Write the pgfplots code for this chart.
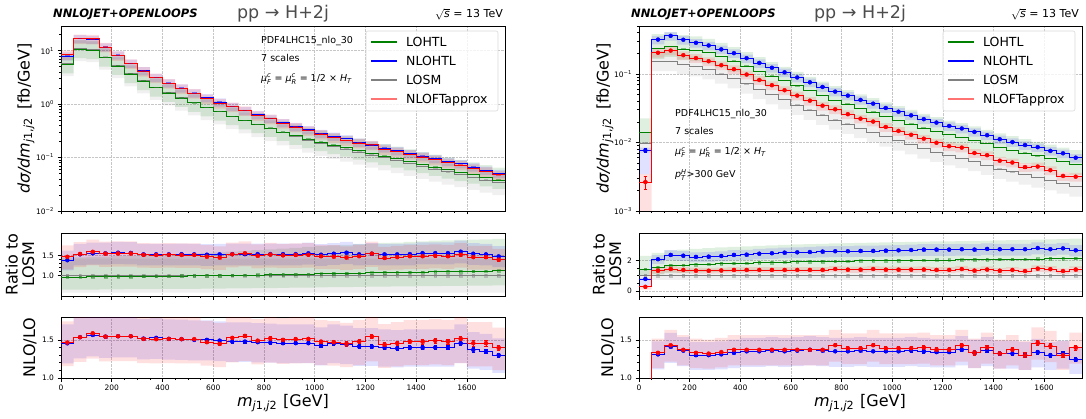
\documentclass[border=0pt]{standalone}
\usepackage{amsmath}
\usepackage{fontspec}
\setmainfont{DejaVu Sans}
\usepackage{pgfplots}
\usepackage{pgfplotstable}
\usepgfplotslibrary{fillbetween}
\pgfplotsset{compat=1.18}

\definecolor{mplG}{HTML}{008000}
\definecolor{mplB}{HTML}{0000FF}
\definecolor{mplS}{HTML}{808080}
\definecolor{mplR}{HTML}{FF0000}
\definecolor{mplRl}{HTML}{FF7373}

% columns: bin low edge, LOSM, LOHTL/LOSM, NLOHTL/LOSM, NLOFT/LOSM, NLOHTL/LOHTL,
% stat errors, band factors (LOSM, LOHTL, NLOHTL, NLOFT), unit
\pgfplotstableread{
x los g b r nb eb er sl sh gl gh bl bh rl rh u
0 5.76 0.965 1.38 1.465 1.455 0.008 0.010 0.58 1.42 0.68 1.50 0.82 1.17 0.79 1.19 1
50 11.0 0.967 1.525 1.535 1.535 0.008 0.010 0.58 1.42 0.68 1.50 0.82 1.17 0.79 1.19 1
100 10.5 0.970 1.55 1.587 1.565 0.008 0.010 0.58 1.42 0.68 1.51 0.82 1.17 0.79 1.19 1
150 7.6 0.973 1.55 1.543 1.543 0.008 0.010 0.58 1.42 0.68 1.51 0.82 1.17 0.79 1.19 1
200 5.3 0.976 1.565 1.548 1.548 0.008 0.010 0.58 1.42 0.68 1.52 0.82 1.17 0.79 1.19 1
250 3.72 0.980 1.56 1.548 1.548 0.008 0.010 0.58 1.42 0.68 1.52 0.82 1.17 0.79 1.19 1
300 2.75 0.983 1.525 1.513 1.517 0.012 0.015 0.58 1.42 0.68 1.53 0.82 1.17 0.79 1.19 1
350 2.07 0.986 1.525 1.509 1.526 0.012 0.015 0.58 1.42 0.68 1.53 0.82 1.17 0.79 1.19 1
400 1.63 0.990 1.525 1.513 1.513 0.012 0.015 0.58 1.42 0.68 1.54 0.82 1.17 0.79 1.19 1
450 1.31 0.993 1.53 1.51 1.51 0.012 0.015 0.58 1.42 0.68 1.54 0.82 1.17 0.79 1.19 1
500 1.06 0.997 1.525 1.51 1.50 0.012 0.015 0.58 1.42 0.68 1.55 0.82 1.17 0.79 1.19 1
550 0.865 1.000 1.516 1.47 1.50 0.012 0.015 0.58 1.42 0.68 1.56 0.82 1.17 0.79 1.19 1
600 0.72 1.004 1.525 1.448 1.49 0.012 0.015 0.58 1.42 0.68 1.57 0.82 1.17 0.79 1.19 1
650 0.59 1.008 1.53 1.526 1.478 0.018 0.022 0.58 1.42 0.68 1.58 0.82 1.17 0.79 1.19 1
700 0.49 1.012 1.53 1.552 1.478 0.018 0.022 0.58 1.42 0.68 1.59 0.82 1.17 0.79 1.19 1
750 0.415 1.017 1.53 1.49 1.47 0.018 0.022 0.58 1.42 0.68 1.60 0.82 1.17 0.79 1.19 1
800 0.35 1.022 1.53 1.52 1.465 0.018 0.022 0.58 1.42 0.68 1.61 0.82 1.17 0.79 1.19 1
850 0.293 1.028 1.53 1.50 1.457 0.018 0.022 0.58 1.42 0.68 1.62 0.82 1.17 0.79 1.19 1
900 0.247 1.034 1.53 1.51 1.457 0.018 0.022 0.58 1.42 0.68 1.63 0.82 1.17 0.79 1.19 1
950 0.213 1.040 1.55 1.513 1.457 0.018 0.022 0.58 1.42 0.68 1.64 0.82 1.17 0.79 1.19 1
1000 0.186 1.046 1.516 1.478 1.422 0.018 0.022 0.58 1.42 0.68 1.65 0.82 1.17 0.79 1.19 1
1050 0.163 1.052 1.54 1.47 1.457 0.025 0.028 0.58 1.42 0.68 1.66 0.82 1.17 0.79 1.19 1
1100 0.144 1.058 1.565 1.448 1.443 0.025 0.028 0.58 1.42 0.68 1.66 0.82 1.17 0.79 1.19 1
1150 0.127 1.064 1.525 1.478 1.413 0.025 0.028 0.58 1.42 0.68 1.67 0.82 1.17 0.79 1.19 1
1200 0.112 1.070 1.54 1.543 1.413 0.025 0.028 0.58 1.42 0.68 1.67 0.82 1.17 0.79 1.19 1
1250 0.099 1.075 1.525 1.435 1.40 0.025 0.028 0.58 1.42 0.68 1.68 0.82 1.17 0.79 1.19 1
1300 0.088 1.080 1.525 1.457 1.39 0.025 0.028 0.58 1.42 0.68 1.68 0.82 1.17 0.79 1.19 1
1350 0.078 1.085 1.53 1.478 1.40 0.025 0.028 0.58 1.42 0.68 1.69 0.82 1.17 0.79 1.19 1
1400 0.069 1.090 1.555 1.478 1.40 0.030 0.035 0.58 1.42 0.68 1.69 0.82 1.17 0.79 1.19 1
1450 0.061 1.095 1.555 1.49 1.40 0.030 0.035 0.58 1.42 0.68 1.70 0.82 1.17 0.79 1.19 1
1500 0.054 1.100 1.555 1.478 1.40 0.030 0.035 0.58 1.42 0.68 1.70 0.82 1.17 0.79 1.19 1
1550 0.048 1.105 1.59 1.513 1.457 0.030 0.035 0.58 1.42 0.68 1.70 0.82 1.17 0.79 1.19 1
1600 0.043 1.110 1.54 1.457 1.37 0.030 0.035 0.58 1.42 0.68 1.70 0.82 1.17 0.79 1.19 1
1650 0.038 1.115 1.525 1.457 1.348 0.030 0.035 0.58 1.42 0.68 1.70 0.82 1.17 0.79 1.19 1
1700 0.034 1.120 1.475 1.396 1.30 0.030 0.035 0.58 1.42 0.68 1.70 0.82 1.17 0.79 1.19 1
1750 0.034 1.120 1.475 1.396 1.30 0.030 0.035 0.58 1.42 0.68 1.70 0.82 1.17 0.79 1.19 1
}\tabL

\pgfplotstableread{
x los g b r nb eb er sl sh gl gh bl bh rl rh u
0 0.0098 1.43 0.78 0.27 0.56 0.050 0.060 0.72 1.40 0.70 1.60 0.45 1.10 0.30 1.30 1
50 0.153 1.55 2.07 1.33 1.31 0.010 0.012 0.72 1.40 0.70 1.60 0.85 1.13 0.85 1.14 1
100 0.153 1.65 2.35 1.43 1.41 0.010 0.012 0.72 1.40 0.70 1.60 0.85 1.13 0.85 1.14 1
150 0.137 1.68 2.30 1.37 1.36 0.010 0.012 0.72 1.40 0.70 1.60 0.85 1.13 0.85 1.14 1
200 0.128 1.72 2.22 1.33 1.30 0.010 0.012 0.72 1.40 0.70 1.60 0.85 1.13 0.85 1.14 1
250 0.116 1.75 2.24 1.32 1.30 0.010 0.012 0.72 1.40 0.70 1.60 0.85 1.13 0.85 1.14 1
300 0.100 1.78 2.28 1.34 1.31 0.010 0.012 0.72 1.40 0.70 1.60 0.85 1.13 0.85 1.14 1
350 0.0855 1.80 2.35 1.37 1.33 0.010 0.012 0.72 1.40 0.70 1.60 0.85 1.13 0.85 1.14 1
400 0.0715 1.82 2.37 1.37 1.35 0.010 0.012 0.72 1.40 0.70 1.60 0.85 1.13 0.85 1.14 1
450 0.0595 1.84 2.43 1.37 1.35 0.010 0.012 0.72 1.40 0.70 1.60 0.85 1.13 0.85 1.14 1
500 0.0500 1.86 2.46 1.37 1.36 0.010 0.012 0.72 1.40 0.70 1.60 0.85 1.13 0.85 1.14 1
550 0.0422 1.88 2.50 1.37 1.35 0.015 0.020 0.72 1.40 0.70 1.60 0.85 1.13 0.85 1.14 1
600 0.0352 1.90 2.52 1.37 1.36 0.015 0.020 0.72 1.40 0.70 1.60 0.85 1.13 0.85 1.14 1
650 0.0297 1.91 2.54 1.37 1.37 0.015 0.020 0.72 1.40 0.70 1.60 0.85 1.13 0.85 1.14 1
700 0.0251 1.92 2.57 1.37 1.36 0.015 0.020 0.72 1.40 0.70 1.60 0.85 1.13 0.85 1.14 1
750 0.0213 1.94 2.59 1.43 1.35 0.015 0.020 0.72 1.40 0.70 1.60 0.85 1.13 0.85 1.14 1
800 0.0186 1.95 2.59 1.39 1.35 0.015 0.020 0.72 1.40 0.70 1.60 0.85 1.13 0.85 1.14 1
850 0.0160 1.96 2.61 1.39 1.36 0.015 0.020 0.72 1.40 0.70 1.60 0.85 1.13 0.85 1.14 1
900 0.0141 1.97 2.61 1.43 1.35 0.015 0.020 0.72 1.40 0.70 1.60 0.85 1.13 0.85 1.14 1
950 0.0121 1.98 2.63 1.39 1.35 0.015 0.020 0.72 1.40 0.70 1.60 0.85 1.13 0.85 1.14 1
1000 0.0106 1.99 2.65 1.39 1.35 0.015 0.020 0.72 1.40 0.70 1.60 0.85 1.13 0.85 1.14 1
1050 0.0093 2.00 2.67 1.39 1.36 0.020 0.028 0.72 1.40 0.70 1.60 0.85 1.13 0.85 1.14 1
1100 0.0081 2.01 2.70 1.40 1.35 0.020 0.028 0.72 1.40 0.70 1.60 0.85 1.13 0.85 1.14 1
1150 0.00722 2.02 2.70 1.37 1.34 0.020 0.028 0.72 1.40 0.70 1.60 0.85 1.13 0.85 1.14 1
1200 0.00644 2.02 2.70 1.37 1.34 0.020 0.028 0.72 1.40 0.70 1.60 0.85 1.13 0.85 1.14 1
1250 0.00588 2.03 2.72 1.43 1.37 0.020 0.028 0.72 1.40 0.70 1.60 0.85 1.13 0.85 1.14 1
1300 0.00528 2.04 2.70 1.33 1.33 0.020 0.028 0.72 1.40 0.70 1.60 0.85 1.13 0.85 1.14 1
1350 0.00466 2.05 2.74 1.40 1.36 0.020 0.028 0.72 1.40 0.70 1.60 0.85 1.13 0.85 1.14 1
1400 0.00410 2.06 2.72 1.32 1.32 0.020 0.028 0.72 1.40 0.70 1.60 0.85 1.13 0.85 1.14 1
1450 0.00372 2.07 2.72 1.37 1.32 0.025 0.035 0.72 1.40 0.70 1.60 0.85 1.13 0.85 1.14 1
1500 0.00337 2.08 2.72 1.30 1.30 0.025 0.035 0.72 1.40 0.70 1.60 0.85 1.13 0.85 1.14 1
1550 0.00305 2.09 2.80 1.46 1.34 0.025 0.035 0.72 1.40 0.70 1.60 0.85 1.13 0.85 1.14 1
1600 0.00277 2.10 2.72 1.42 1.30 0.025 0.035 0.72 1.40 0.70 1.60 0.85 1.13 0.85 1.14 1
1650 0.00250 2.11 2.78 1.30 1.32 0.025 0.035 0.72 1.40 0.70 1.60 0.85 1.13 0.85 1.14 1
1700 0.00226 2.13 2.65 1.40 1.24 0.025 0.035 0.72 1.40 0.70 1.60 0.85 1.13 0.85 1.14 1
1750 0.00226 2.13 2.65 1.40 1.24 0.025 0.035 0.72 1.40 0.70 1.60 0.85 1.13 0.85 1.14 1
}\tabR

\newcommand{\band}[5]{%
  \addplot[draw=none, const plot, name path=#5lo, forget plot] table[x=x, y expr={#2}] {#1};
  \addplot[draw=none, const plot, name path=#5hi, forget plot] table[x=x, y expr={#3}] {#1};
  \addplot[fill=#4, fill opacity=0.12, draw=none, forget plot] fill between[of=#5lo and #5hi];
}
\newcommand{\stepline}[3]{%
  \addplot[color=#3, line width=0.8pt, const plot, forget plot] table[x=x, y expr={#2}] {#1};
}
\newcommand{\dashes}[3]{%
  \addplot[color=#3, only marks, mark=-, mark size=2.4pt, mark options={line width=1.3pt, opacity=0.45},
    forget plot, restrict x to domain=0:1740] table[x expr=\thisrow{x}+25, y expr={#2}] {#1};
}
\newcommand{\sqmarks}[3]{%
  \addplot[color=#3, only marks, mark=square*, mark size=1.3pt, mark options={opacity=0.4},
    forget plot, restrict x to domain=0:1740] table[x expr=\thisrow{x}+25, y expr={#2}] {#1};
}
\newcommand{\errs}[4]{%
  \addplot[color=#4, only marks, mark=none, forget plot, restrict x to domain=0:1740,
    error bars/.cd, y dir=both, y explicit, error bar style={line width=0.6pt},
    error mark options={rotate=90, mark size=1.6pt, line width=0.6pt}]
    table[x expr=\thisrow{x}+25, y expr={#2}, y error expr={#3}] {#1};
}

\pgfplotsset{
  pane/.style={
    scale only axis, width=444pt, xmin=0, xmax=1750, anchor=south west,
    tick pos=left, tick align=outside,
    xtick={0,200,...,1600}, minor x tick num=3, xticklabels={},
    major tick length=3.5pt, minor tick length=2pt,
    every tick/.style={black, line width=0.6pt},
    axis line style={line width=0.8pt},
    grid=major, major grid style={densely dotted, gray!45, line width=0.5pt},
    tick label style={font=\fontsize{7.5}{8}\selectfont},
  },
}

\begin{document}
\begin{tikzpicture}

% ---------------- left: main ----------------
\begin{axis}[pane, at={(61pt,207pt)}, height=185pt,
    ymode=log, log basis y=10, ymin=0.01, ymax=29,
    ytick={0.01,0.1,1,10},
    yticklabels={10\textsuperscript{−2},10\textsuperscript{−1},10\textsuperscript{0},10\textsuperscript{1}},
    minor ytick={0.02,0.03,0.04,0.05,0.06,0.07,0.08,0.09,0.2,0.3,0.4,0.5,0.6,0.7,0.8,0.9,2,3,4,5,6,7,8,9,20}]
  \band{\tabL}{\thisrow{los}*\thisrow{sl}}{\thisrow{los}*\thisrow{sh}}{mplS}{s}
  \band{\tabL}{\thisrow{los}*\thisrow{g}*\thisrow{gl}}{\thisrow{los}*\thisrow{g}*\thisrow{gh}}{mplG}{g}
  \band{\tabL}{\thisrow{los}*\thisrow{b}*\thisrow{bl}}{\thisrow{los}*\thisrow{b}*\thisrow{bh}}{mplB}{b}
  \band{\tabL}{\thisrow{los}*\thisrow{r}*\thisrow{rl}}{\thisrow{los}*\thisrow{r}*\thisrow{rh}}{mplR}{r}
  \stepline{\tabL}{\thisrow{los}}{mplS}
  \stepline{\tabL}{\thisrow{los}*\thisrow{g}}{mplG}
  \stepline{\tabL}{\thisrow{los}*\thisrow{b}}{mplB}
  \stepline{\tabL}{\thisrow{los}*\thisrow{r}}{mplR}
  \dashes{\tabL}{\thisrow{los}}{mplS}
  \dashes{\tabL}{\thisrow{los}*\thisrow{g}}{mplG}
  \dashes{\tabL}{\thisrow{los}*\thisrow{b}}{mplB}
  \dashes{\tabL}{\thisrow{los}*\thisrow{r}}{mplR}
\end{axis}

% ---------------- left: ratio ----------------
\begin{axis}[pane, at={(61pt,122pt)}, height=63pt,
    ymin=0.5, ymax=2.05, ytick={1,1.5}, yticklabels={1.0,1.5}, minor y tick num=4]
  \band{\tabL}{\thisrow{sl}}{\thisrow{sh}}{mplS}{s}
  \band{\tabL}{\thisrow{g}*\thisrow{gl}}{\thisrow{g}*\thisrow{gh}}{mplG}{g}
  \band{\tabL}{\thisrow{b}*\thisrow{bl}}{\thisrow{b}*\thisrow{bh}}{mplB}{b}
  \band{\tabL}{\thisrow{r}*\thisrow{rl}}{\thisrow{r}*\thisrow{rh}}{mplR}{r}
  \stepline{\tabL}{\thisrow{u}}{mplS}
  \stepline{\tabL}{\thisrow{g}}{mplG}
  \stepline{\tabL}{\thisrow{b}}{mplB}
  \stepline{\tabL}{\thisrow{r}}{mplR}
  \sqmarks{\tabL}{\thisrow{u}}{mplS}
  \sqmarks{\tabL}{\thisrow{g}}{mplG}
  \sqmarks{\tabL}{\thisrow{b}}{mplB}
  \sqmarks{\tabL}{\thisrow{r}}{mplR}
  \errs{\tabL}{\thisrow{b}}{\thisrow{eb}}{mplB}
  \errs{\tabL}{\thisrow{r}}{\thisrow{er}}{mplR}
\end{axis}

% ---------------- left: NLO/LO ----------------
\begin{axis}[pane, at={(61pt,40pt)}, height=61pt,
    ymin=1.0, ymax=1.8, ytick={1,1.5}, yticklabels={1.0,1.5}, minor y tick num=4,
    xticklabels={0,200,400,600,800,1000,1200,1400,1600}]
  \band{\tabL}{\thisrow{nb}*\thisrow{bl}}{\thisrow{nb}*\thisrow{bh}}{mplB}{b}
  \band{\tabL}{\thisrow{r}*\thisrow{rl}}{\thisrow{r}*\thisrow{rh}}{mplR}{r}
  \stepline{\tabL}{\thisrow{nb}}{mplB}
  \stepline{\tabL}{\thisrow{r}}{mplR}
  \sqmarks{\tabL}{\thisrow{nb}}{mplB}
  \sqmarks{\tabL}{\thisrow{r}}{mplR}
  \errs{\tabL}{\thisrow{nb}}{\thisrow{eb}}{mplB}
  \errs{\tabL}{\thisrow{r}}{\thisrow{er}}{mplR}
\end{axis}

% ---------------- right: main ----------------
\begin{axis}[pane, at={(639pt,207pt)}, width=443pt, height=185pt,
    ymode=log, log basis y=10, ymin=0.001, ymax=0.5,
    ytick={0.001,0.01,0.1},
    yticklabels={10\textsuperscript{−3},10\textsuperscript{−2},10\textsuperscript{−1}},
    minor ytick={0.002,0.003,0.004,0.005,0.006,0.007,0.008,0.009,0.02,0.03,0.04,0.05,0.06,0.07,0.08,0.09,0.2,0.3,0.4,0.5}]
  \band{\tabR}{\thisrow{los}*\thisrow{sl}}{\thisrow{los}*\thisrow{sh}}{mplS}{s}
  \band{\tabR}{\thisrow{los}*\thisrow{g}*\thisrow{gl}}{\thisrow{los}*\thisrow{g}*\thisrow{gh}}{mplG}{g}
  \band{\tabR}{\thisrow{los}*\thisrow{b}*\thisrow{bl}}{\thisrow{los}*\thisrow{b}*\thisrow{bh}}{mplB}{b}
  \band{\tabR}{\thisrow{los}*\thisrow{r}*\thisrow{rl}}{\thisrow{los}*\thisrow{r}*\thisrow{rh}}{mplR}{r}
  \stepline{\tabR}{\thisrow{los}}{mplS}
  \stepline{\tabR}{\thisrow{los}*\thisrow{g}}{mplG}
  \stepline{\tabR}{\thisrow{los}*\thisrow{b}}{mplB}
  \stepline{\tabR}{\thisrow{los}*\thisrow{r}}{mplR}
  \dashes{\tabR}{\thisrow{los}}{mplS}
  \dashes{\tabR}{\thisrow{los}*\thisrow{g}}{mplG}
  \dashes{\tabR}{\thisrow{los}*\thisrow{b}}{mplB}
  \dashes{\tabR}{\thisrow{los}*\thisrow{r}}{mplR}
  \errs{\tabR}{\thisrow{los}*\thisrow{b}}{\thisrow{los}*\thisrow{eb}}{mplB}
  \errs{\tabR}{\thisrow{los}*\thisrow{r}}{\thisrow{los}*\thisrow{er}}{mplR}
\end{axis}

% ---------------- right: ratio ----------------
\begin{axis}[pane, at={(639pt,122pt)}, width=443pt, height=63pt,
    ymin=-0.33, ymax=3.78, ytick={0,2}, yticklabels={0,2}, minor y tick num=3]
  \band{\tabR}{\thisrow{sl}}{\thisrow{sh}}{mplS}{s}
  \band{\tabR}{\thisrow{g}*\thisrow{gl}}{\thisrow{g}*\thisrow{gh}}{mplG}{g}
  \band{\tabR}{\thisrow{b}*\thisrow{bl}}{\thisrow{b}*\thisrow{bh}}{mplB}{b}
  \band{\tabR}{\thisrow{r}*\thisrow{rl}}{\thisrow{r}*\thisrow{rh}}{mplR}{r}
  \stepline{\tabR}{\thisrow{u}}{mplS}
  \stepline{\tabR}{\thisrow{g}}{mplG}
  \stepline{\tabR}{\thisrow{b}}{mplB}
  \stepline{\tabR}{\thisrow{r}}{mplR}
  \sqmarks{\tabR}{\thisrow{u}}{mplS}
  \sqmarks{\tabR}{\thisrow{g}}{mplG}
  \sqmarks{\tabR}{\thisrow{b}}{mplB}
  \sqmarks{\tabR}{\thisrow{r}}{mplR}
  \errs{\tabR}{\thisrow{b}}{\thisrow{eb}}{mplB}
  \errs{\tabR}{\thisrow{r}}{\thisrow{er}}{mplR}
\end{axis}

% ---------------- right: NLO/LO ----------------
\begin{axis}[pane, at={(639pt,40pt)}, width=443pt, height=61pt,
    ymin=1.0, ymax=1.8, ytick={1,1.5}, yticklabels={1.0,1.5}, minor y tick num=4,
    xticklabels={0,200,400,600,800,1000,1200,1400,1600}]
  \band{\tabR}{\thisrow{nb}*\thisrow{bl}}{\thisrow{nb}*\thisrow{bh}}{mplB}{b}
  \band{\tabR}{\thisrow{r}*\thisrow{rl}}{\thisrow{r}*\thisrow{rh}}{mplR}{r}
  \stepline{\tabR}{\thisrow{nb}}{mplB}
  \stepline{\tabR}{\thisrow{r}}{mplR}
  \sqmarks{\tabR}{\thisrow{nb}}{mplB}
  \sqmarks{\tabR}{\thisrow{r}}{mplR}
  \errs{\tabR}{\thisrow{nb}}{\thisrow{eb}}{mplB}
  \errs{\tabR}{\thisrow{r}}{\thisrow{er}}{mplR}
\end{axis}

% ---------------- legends (drawn as boxes over the main panels) ----------------
\foreach \lx in {366,943}{
  \draw[draw=black!15, fill=white, fill opacity=0.8, rounded corners=2pt, line width=0.6pt]
    (\lx pt,307pt) rectangle (\lx pt+132pt,387pt);
  \draw[draw=mplG, line width=1.1pt] (\lx pt+5pt,376pt) -- (\lx pt+31pt,376pt);
  \draw[draw=mplB, line width=1.1pt] (\lx pt+5pt,357pt) -- (\lx pt+31pt,357pt);
  \draw[draw=mplS, line width=1.1pt] (\lx pt+5pt,338pt) -- (\lx pt+31pt,338pt);
  \draw[draw=mplRl, line width=1.4pt] (\lx pt+5pt,319pt) -- (\lx pt+31pt,319pt);
  \begin{scope}[every node/.style={anchor=base west, inner sep=0, font=\fontsize{12.5}{14}\selectfont}]
    \node at (\lx pt+40pt,371.5pt) {LOHTL};
    \node at (\lx pt+40pt,352.5pt) {NLOHTL};
    \node at (\lx pt+40pt,333.5pt) {LOSM};
    \node at (\lx pt+40pt,314.5pt) {NLOFTapprox};
  \end{scope}
}

% ---------------- titles and labels ----------------
\foreach \ox in {0,578}{
  \node[anchor=base west, inner sep=0, font=\fontsize{11.5}{12}\selectfont\bfseries\itshape]
    at (53pt+\ox pt,400pt) {NNLOJET+OPENLOOPS};
}
\node[anchor=base, inner sep=0, font=\fontsize{17.5}{18}\selectfont, text=black!70] at (283pt,399pt) {pp → H+2j};
\node[anchor=base, inner sep=0, font=\fontsize{17.5}{18}\selectfont, text=black!70] at (860pt,399pt) {pp → H+2j};
\node[anchor=base east, inner sep=0, font=\fontsize{11}{12}\selectfont] at (503pt,400pt) {$\sqrt{\mbox{\textit{s}}}$ = 13 TeV};
\node[anchor=base east, inner sep=0, font=\fontsize{11}{12}\selectfont] at (1079pt,400pt) {$\sqrt{\mbox{\textit{s}}}$ = 13 TeV};

\begin{scope}[every node/.style={anchor=base west, inner sep=0, font=\fontsize{9.5}{10}\selectfont}]
  \node at (261pt,374pt) {PDF4LHC15\_nlo\_30};
  \node at (261pt,356pt) {7 scales};
  \node at (261pt,336.5pt) {$\textit{μ}^{\textit{c}}_{\textit{F}}$ = $\textit{μ}^{\textit{c}}_{\textit{R}}$ = 1/2 × $\textit{H}_{\textit{T}}$};
  \node at (675pt,301pt) {PDF4LHC15\_nlo\_30};
  \node at (675pt,283pt) {7 scales};
  \node at (675pt,263pt) {$\textit{μ}^{\textit{c}}_{\textit{F}}$ = $\textit{μ}^{\textit{c}}_{\textit{R}}$ = 1/2 × $\textit{H}_{\textit{T}}$};
  \node at (675pt,240pt) {$\textit{p}^{\textit{H}}_{\textit{T}}$>300 GeV};
\end{scope}

\begin{scope}[every node/.style={rotate=90, inner sep=0, align=center, font=\fontsize{16}{16.5}\selectfont}]
  \node at (26pt,299.5pt) {\textit{dσ/dm}\textsubscript{\textit{j}1,\textit{j}2}\hspace{8pt}[fb/GeV]};
  \node at (605pt,299.5pt) {\textit{dσ/dm}\textsubscript{\textit{j}1,\textit{j}2}\hspace{8pt}[fb/GeV]};
  \node at (20pt,153.5pt) {Ratio to\\LOSM};
  \node at (607pt,153.5pt) {Ratio to\\LOSM};
  \node at (30pt,70.5pt) {NLO/LO};
  \node at (608pt,70.5pt) {NLO/LO};
\end{scope}

\node[inner sep=0, font=\fontsize{16}{17}\selectfont] at (283pt,15pt) {\textit{m}\textsubscript{\textit{j}1,\textit{j}2}\hspace{6pt}[GeV]};
\node[inner sep=0, font=\fontsize{16}{17}\selectfont] at (860pt,15pt) {\textit{m}\textsubscript{\textit{j}1,\textit{j}2}\hspace{6pt}[GeV]};

\pgfresetboundingbox
\path[use as bounding box] (0,0) rectangle (1086pt,418pt);
\end{tikzpicture}
\end{document}
